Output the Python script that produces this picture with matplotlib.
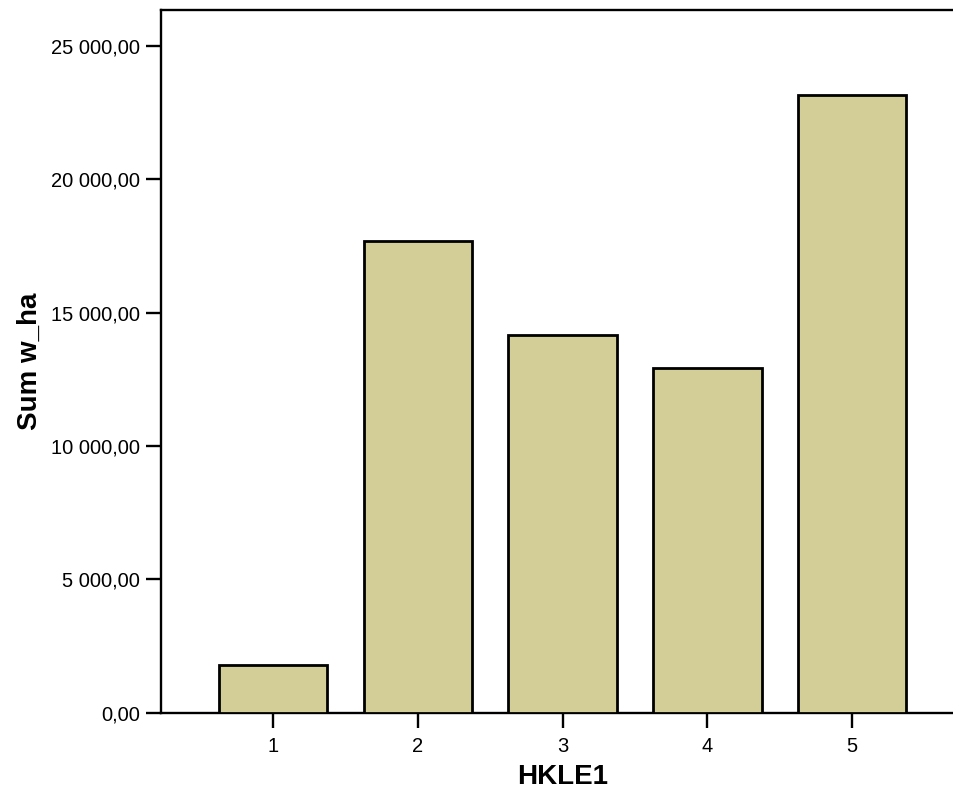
import matplotlib
matplotlib.use("Agg")
import matplotlib.pyplot as plt
from matplotlib.ticker import FuncFormatter

categories = ["1", "2", "3", "4", "5"]
sums = [1780, 17670, 14150, 12940, 23150]
yticks = [0, 5000, 10000, 15000, 20000, 25000]

plt.rcParams['font.family'] = ['Liberation Sans', 'DejaVu Sans']


def fmt(v, pos):  # 25 000,00 style
    s = "{:,.2f}".format(v)
    return s.replace(",", " ").replace(".", ",")


fig = plt.figure(figsize=(9.54, 7.96), dpi=100)
ax = fig.add_axes([0.1688, 0.1043, 0.8427, 0.8831])

xpos = list(range(1, len(categories) + 1))
ax.bar(xpos, sums, width=0.75, color="#D3CE98", edgecolor="black", linewidth=2, zorder=3)

ax.set_xlim(0.225, 5.78)
ax.set_ylim(0, 26330)
ax.set_xticks(xpos)
ax.set_xticklabels(categories)
ax.set_yticks(yticks)
ax.yaxis.set_major_formatter(FuncFormatter(fmt))

for side in ["left", "top", "bottom"]:
    ax.spines[side].set_linewidth(1.7)
ax.spines["right"].set_visible(False)
ax.tick_params(length=11, width=1.7, labelsize=14.5)
ax.tick_params(axis="x", pad=6)
ax.tick_params(axis="y", pad=4)

ax.set_xlabel("HKLE1", fontsize=20, fontweight="bold", labelpad=6)
ax.set_ylabel("Sum w_ha", fontsize=20, fontweight="bold", labelpad=6)

fig.savefig("out.png", dpi=100)
